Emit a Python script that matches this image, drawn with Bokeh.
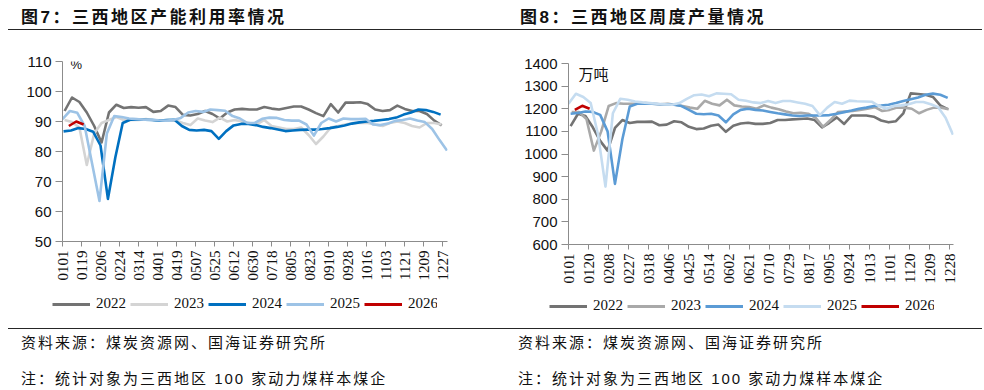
import math
from datetime import date
from bokeh.plotting import figure
from bokeh.models import Range1d, FixedTicker, Legend, LegendItem, Label, Div
from bokeh.layouts import row, column
from bokeh.embed import file_html
from bokeh.resources import INLINE

# ---------------- data ----------------
years = ["2022", "2023", "2024", "2025", "2026"]

# Chart 7: capacity utilisation (%) -- weekly values
cap_title = "图7：三西地区产能利用率情况"
cap_unit = "%"
cap_ticks = ["0101", "0119", "0206", "0224", "0314", "0401", "0419", "0507", "0525",
             "0612", "0630", "0718", "0805", "0823", "0910", "0928", "1016", "1103",
             "1121", "1209", "1227"]
cap_yticks = [50, 60, 70, 80, 90, 100, 110]
cap_first_dates = ["0103", "0103", "0102", "0101", "0107"]

cap_2022 = [93.5, 98, 96.5, 93, 88.5, 83, 93, 95.6, 94.5, 94.8,
            94.6, 94.8, 93.2, 93.5, 95.3, 94.8, 92.2, 92, 92.5, 93.5,
            92.5, 91, 93, 94, 94.2, 94, 94, 94.8, 94.3, 94,
            94.5, 95, 95, 94, 92.8, 91.8, 95.8, 93, 96.3, 96.3,
            96.4, 95.8, 94, 93.5, 93.8, 95.3, 94.2, 93.5, 93.5, 92.5,
            90.3, 88.7]
cap_2023 = [90.5, 89.8, 88, 75.5, 86, 89.5, 90.5, 91.5, 90.5, 90.5,
            90.5, 90.8, 90.5, 90.3, 90.5, 90.3, 89.5, 88.8, 91, 90.3,
            89.8, 91.3, 90, 90.5, 90, 89.5, 89, 90.5, 88.5, 88,
            87.5, 87.5, 88, 85.5, 82.5, 85, 88, 88.5, 89, 89.5,
            89.5, 89.5, 89, 88.5, 89.5, 90, 89.5, 88.5, 88, 89.5,
            89.5, 89]
cap_2024 = [86.7, 87, 87.8, 87.5, 86.6, 82, 64.2, 78, 89.5, 90.6,
            90.6, 90.6, 90.5, 90.3, 90.5, 90.6, 88.5, 87.2, 87, 87.2,
            86.8, 84.2, 86.8, 88.7, 89.2, 89.2, 88.8, 88.2, 87.8, 87.3,
            86.8, 87, 87.2, 87.3, 87.3, 87.5, 87.8, 88.2, 88.7, 89.3,
            89.7, 90, 90.2, 90.5, 90.8, 91.3, 92.3, 93, 94, 93.8,
            93.2, 92.3]
cap_2025 = [90.8, 93.5, 92.9, 88.5, 76, 63.5, 86, 91.8, 91.5, 91,
            90.8, 90.6, 90.6, 90.4, 90.3, 90.5, 91.2, 93, 93.5, 93.2,
            94, 93.8, 93.6, 91.8, 91, 89.5, 89.5, 90.9, 91.3, 91.2,
            90.5, 90.3, 90.3, 89, 85.3, 89.5, 91, 90, 91, 90.8,
            90.8, 90.9, 89, 88.8, 89.3, 90.2, 90.5, 91, 90.3, 89.8,
            87.5, 83.8, 80.3]
cap_2026 = [88.5, 90, 89]

# Chart 8: weekly output (10k tonnes)
prod_title = "图8：三西地区周度产量情况"
prod_unit = "万吨"
prod_ticks = ["0101", "0120", "0208", "0227", "0318", "0406", "0425", "0514", "0602",
              "0621", "0710", "0729", "0817", "0905", "0924", "1013", "1101", "1120",
              "1209", "1228"]
prod_yticks = [600, 700, 800, 900, 1000, 1100, 1200, 1300, 1400]
prod_first_dates = ["0103", "0104", "0103", "0101", "0107"]

prod_2022 = [1123, 1178, 1168, 1118, 1058, 1015, 1115, 1150, 1137, 1142,
             1142, 1143, 1127, 1130, 1145, 1140, 1120, 1110, 1113, 1125,
             1130, 1098, 1125, 1135, 1138, 1133, 1133, 1137, 1150, 1150,
             1153, 1155, 1157, 1150, 1118, 1138, 1162, 1133, 1170, 1170,
             1170, 1165, 1148, 1140, 1145, 1180, 1268, 1265, 1262, 1252,
             1215, 1198]
prod_2023 = [1185, 1185, 1155, 1015, 1100, 1212, 1225, 1222, 1222, 1222,
             1225, 1222, 1220, 1222, 1218, 1212, 1205, 1200, 1235, 1222,
             1215, 1240, 1215, 1210, 1208, 1200, 1215, 1205, 1198, 1188,
             1180, 1182, 1178, 1160, 1120, 1150, 1185, 1188, 1190, 1195,
             1200, 1207, 1190, 1195, 1205, 1205, 1200, 1180, 1195, 1205,
             1205, 1198]
prod_2024 = [1178, 1181, 1188, 1186, 1173, 1100, 868, 1065, 1210, 1222,
             1222, 1222, 1220, 1220, 1218, 1212, 1195, 1178, 1176, 1178,
             1170, 1140, 1175, 1195, 1200, 1195, 1192, 1186, 1180, 1175,
             1170, 1168, 1170, 1170, 1170, 1172, 1178, 1185, 1192, 1200,
             1205, 1212, 1214, 1218, 1225, 1234, 1242, 1250, 1262, 1267,
             1262, 1248]
prod_2025 = [1222, 1266, 1252, 1225, 1085, 856, 1180, 1244, 1240, 1232,
             1228, 1225, 1222, 1220, 1218, 1225, 1244, 1260, 1263, 1255,
             1268, 1266, 1264, 1240, 1235, 1228, 1225, 1234, 1225, 1234,
             1234, 1228, 1222, 1212, 1172, 1205, 1230, 1222, 1236, 1233,
             1232, 1231, 1212, 1200, 1212, 1215, 1220, 1230, 1230, 1220,
             1207, 1160, 1085]
prod_2026 = [1195, 1213, 1200]

source_text = "资料来源：煤炭资源网、国海证券研究所"
note_text = "注：统计对象为三西地区 100 家动力煤样本煤企"

cap_colors = ["#737373", "#d4d4d4", "#0070c0", "#9dc3e6", "#c00000"]
prod_colors = ["#737373", "#a9a9a9", "#5b9bd5", "#c5dcf0", "#c00000"]

COL_W = 492
FONT = "'Liberation Sans','Noto Sans CJK SC'"
RULE = "1.5px solid #262626"


def doy(mmdd):
    return (date(2022, int(mmdd[:2]), int(mmdd[2:])) - date(2022, 1, 1)).days


def weekly_days(first, n):
    d0 = doy(first)
    return [d0 + 7 * i for i in range(n)]


def title_div(text, rule_left, rule_w, pad_left):
    html = ('<div style="margin-left:%dpx;width:%dpx;height:30px;border-bottom:%s;">'
            '<div style="white-space:nowrap;color:#111;font-family:%s;font-weight:bold;'
            'font-size:17px;letter-spacing:2.5px;padding-left:%dpx;padding-top:9px;'
            'line-height:17px;">%s</div></div>'
            % (rule_left, rule_w, RULE, FONT, pad_left - rule_left, text))
    return Div(text=html, width=COL_W, height=32, margin=0)


def source_div(text, rule_left, rule_w, pad_left):
    html = ('<div style="margin-left:%dpx;width:%dpx;height:27px;border-top:%s;">'
            '<div style="white-space:nowrap;color:#111;font-family:%s;'
            'font-size:15px;letter-spacing:2px;padding-left:%dpx;padding-top:6px;'
            'line-height:16px;">%s</div></div>'
            % (rule_left, rule_w, RULE, FONT, pad_left - rule_left, text))
    return Div(text=html, width=COL_W, height=29, margin=0)


def note_div(text, pad_left):
    html = ('<div style="white-space:nowrap;color:#111;font-family:%s;'
            'font-size:15px;letter-spacing:2px;padding-left:%dpx;padding-top:14px;'
            'line-height:16px;">%s</div>' % (FONT, pad_left, text))
    return Div(text=html, width=COL_W, height=33, margin=0)


def style_plain(p):
    p.background_fill_color = "white"
    p.border_fill_color = "white"
    p.outline_line_color = None


def make_chart(series, first_dates, colors, ticks, yticks, yr, borders,
               unit, unit_font, unit_size, unit_pos):
    bl, bt, br, bb = borders
    p = figure(width=COL_W, height=258, output_backend="svg", toolbar_location=None,
               x_range=Range1d(0, 364.5), y_range=Range1d(*yr),
               min_border_left=bl, min_border_top=bt, min_border_right=br,
               min_border_bottom=bb)
    style_plain(p)
    p.xgrid.visible = False
    p.ygrid.visible = False

    for vals, first, col in zip(series, first_dates, colors):
        p.line(weekly_days(first, len(vals)), vals, line_color=col,
               line_width=2.6, line_join="round")

    tick_pos = [doy(t) for t in ticks]
    p.xaxis.ticker = FixedTicker(ticks=tick_pos)
    p.xaxis.major_label_overrides = {tp: t for tp, t in zip(tick_pos, ticks)}
    p.xaxis.major_label_orientation = math.pi / 2
    p.yaxis.ticker = FixedTicker(ticks=yticks)
    for ax in (p.xaxis, p.yaxis):
        ax.axis_line_color = "#8c8c8c"
        ax.major_tick_line_color = "#8c8c8c"
        ax.major_tick_in = 0
        ax.major_tick_out = 5
        ax.minor_tick_line_color = None
        ax.major_label_text_color = "#111111"
        ax.major_label_text_font_size = "15px"
    p.xaxis.major_label_text_font = "Liberation Serif"
    p.xaxis.major_label_standoff = 4
    p.yaxis.major_label_text_font = "Liberation Sans"
    p.yaxis.major_label_standoff = 4
    p.yaxis.major_tick_out = 7

    ux, uy = unit_pos
    p.add_layout(Label(x=ux, y=uy, x_units="screen", y_units="screen",
                       text=unit, text_font=unit_font, text_font_size=unit_size,
                       text_baseline="middle", text_color="#111111"))
    return p


def make_legend(series, first_dates, colors, top, shift):
    # legend strip: same series, plotted out of view, only the legend shows
    q = figure(width=COL_W, height=38, output_backend="svg", toolbar_location=None,
               x_axis_type=None, y_axis_type=None,
               x_range=Range1d(-1000, -999), y_range=Range1d(-1000, -999),
               min_border_left=0, min_border_right=0, min_border_top=top,
               min_border_bottom=0)
    style_plain(q)
    q.styles = {"transform": "translateX(%dpx)" % shift}
    items = []
    for name, vals, first, col in zip(years, series, first_dates, colors):
        r = q.line(weekly_days(first, len(vals)), vals, line_color=col, line_width=3)
        items.append(LegendItem(label=name, renderers=[r]))
    leg = Legend(items=items, orientation="horizontal", location="top_left",
                 border_line_color=None, background_fill_alpha=0, padding=0,
                 margin=0, spacing=3, glyph_width=38, glyph_height=16,
                 label_standoff=6, label_height=16, label_width=31,
                 label_text_font="Liberation Serif", label_text_font_size="15px",
                 label_text_color="#111111")
    q.add_layout(leg)
    return q


cap_series = [cap_2022, cap_2023, cap_2024, cap_2025, cap_2026]
prod_series = [prod_2022, prod_2023, prod_2024, prod_2025, prod_2026]

p1 = make_chart(cap_series, cap_first_dates, cap_colors, cap_ticks, cap_yticks,
                (50, 110), (62, 29, 45, 49), cap_unit, "Liberation Sans", "13px", (8, 177))
p2 = make_chart(prod_series, prod_first_dates, prod_colors, prod_ticks, prod_yticks,
                (600, 1400), (76, 31, 31, 46), prod_unit, "Noto Sans CJK SC", "15px",
                (10, 171))
l1 = make_legend(cap_series, cap_first_dates, cap_colors, 5, -10)
l2 = make_legend(prod_series, prod_first_dates, prod_colors, 7, -19)

left = column(
    title_div(cap_title, 8, 484, 21),
    p1, l1,
    source_div(source_text, 8, 484, 21),
    note_div(note_text, 21),
    spacing=0)
right = column(
    title_div(prod_title, 0, 490, 28),
    p2, l2,
    source_div(source_text, 0, 490, 26),
    note_div(note_text, 26),
    spacing=0)

layout = row(left, right, spacing=0)
open("out.html", "w").write(file_html(layout, INLINE))
